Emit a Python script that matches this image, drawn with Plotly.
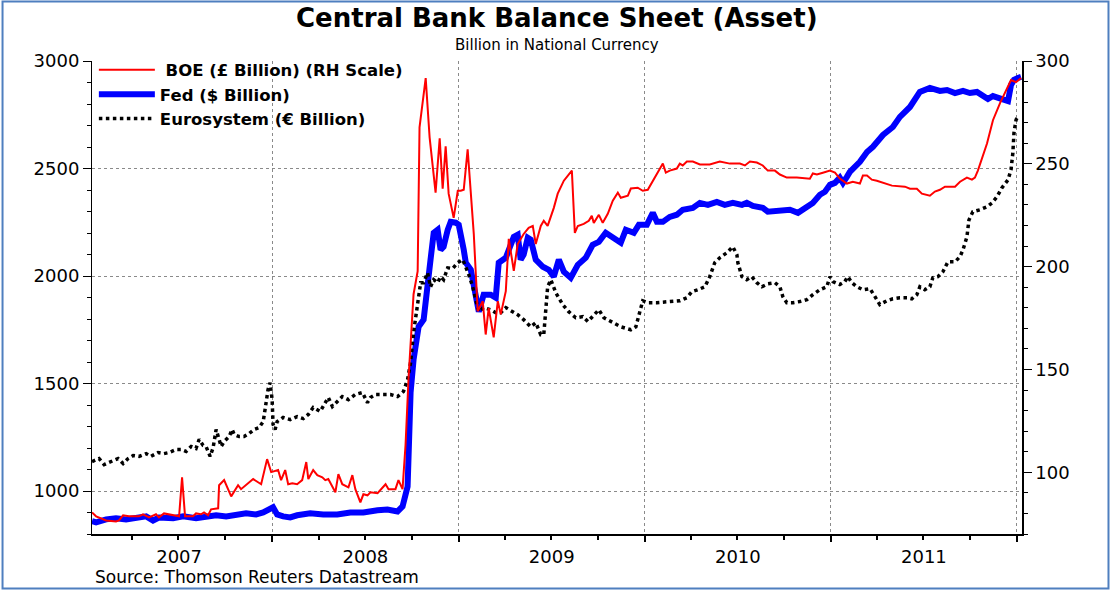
import plotly.graph_objects as go
import pandas as pd

# ---------------- data (decimal years, values) ----------------
boe_t = [2007.032, 2007.054, 2007.108, 2007.161, 2007.177, 2007.199, 2007.231, 2007.285, 2007.306, 2007.339,
         2007.376, 2007.392, 2007.419, 2007.484, 2007.500, 2007.516, 2007.532, 2007.575, 2007.591, 2007.618,
         2007.634, 2007.656, 2007.672, 2007.710, 2007.715, 2007.742, 2007.780, 2007.817, 2007.833, 2007.898,
         2007.941, 2007.973, 2007.995, 2008.032, 2008.048, 2008.070, 2008.086, 2008.108, 2008.134, 2008.161,
         2008.183, 2008.194, 2008.220, 2008.242, 2008.269, 2008.285, 2008.301, 2008.339, 2008.355, 2008.376,
         2008.409, 2008.430, 2008.446, 2008.473, 2008.489, 2008.511, 2008.527, 2008.565, 2008.608, 2008.624,
         2008.661, 2008.677, 2008.699, 2008.715, 2008.731, 2008.758, 2008.780, 2008.790, 2008.812, 2008.823,
         2008.844, 2008.876, 2008.898, 2008.914, 2008.930, 2008.946, 2008.973, 2008.995, 2009.011, 2009.027,
         2009.048, 2009.065, 2009.081, 2009.102, 2009.129, 2009.145, 2009.161, 2009.188, 2009.210, 2009.226,
         2009.253, 2009.269, 2009.296, 2009.317, 2009.349, 2009.376, 2009.398, 2009.414, 2009.441, 2009.457,
         2009.478, 2009.511, 2009.532, 2009.565, 2009.608, 2009.624, 2009.640, 2009.672, 2009.699, 2009.715,
         2009.726, 2009.753, 2009.774, 2009.801, 2009.828, 2009.855, 2009.871, 2009.909, 2009.925, 2009.962,
         2009.989, 2010.016, 2010.043, 2010.081, 2010.097, 2010.113, 2010.134, 2010.172, 2010.188, 2010.204,
         2010.226, 2010.258, 2010.296, 2010.349, 2010.403, 2010.457, 2010.511, 2010.538, 2010.565, 2010.602,
         2010.634, 2010.661, 2010.699, 2010.726, 2010.763, 2010.817, 2010.887, 2010.903, 2010.925, 2010.957,
         2010.995, 2011.022, 2011.048, 2011.086, 2011.118, 2011.156, 2011.172, 2011.194, 2011.220, 2011.247,
         2011.280, 2011.328, 2011.398, 2011.425, 2011.462, 2011.489, 2011.532, 2011.559, 2011.586, 2011.613,
         2011.667, 2011.694, 2011.731, 2011.758, 2011.774, 2011.790, 2011.839, 2011.871, 2011.909, 2011.935,
         2011.968, 2011.995, 2012.022]
boe_v = [80.5, 78.6, 76.6, 76.1, 76.6, 79.1, 78.6, 78.6, 79.6, 78.1,
         79.6, 78.1, 80.0, 79.1, 78.6, 97.6, 78.6, 78.6, 80.0, 79.6,
         80.5, 79.1, 82.0, 82.5, 93.7, 96.2, 88.3, 93.7, 91.8, 96.7,
         94.2, 106.4, 100.1, 101.1, 96.2, 101.1, 94.2, 94.7, 94.2, 96.2,
         105.0, 96.7, 101.1, 98.6, 97.6, 96.2, 96.7, 90.3, 99.1, 94.2,
         92.7, 98.6, 91.8, 85.4, 89.3, 88.8, 90.3, 89.8, 94.2, 91.8,
         91.8, 96.2, 91.8, 113.3, 145.5, 186.6, 197.8, 267.7, 282.4, 291.7,
         262.9, 236.0, 262.4, 237.9, 258.5, 235.5, 223.7, 236.9, 236.9, 237.4,
         257.0, 236.9, 215.9, 178.3, 183.2, 167.0, 179.8, 165.6, 183.2, 176.8,
         188.1, 213.5, 198.0, 211.0, 215.9, 218.9, 219.8, 211.0, 219.8, 222.3,
         219.8, 228.6, 235.5, 241.8, 246.7, 216.4, 219.8, 220.8, 222.3, 224.7,
         221.3, 225.2, 221.3, 225.7, 232.1, 236.0, 233.5, 234.5, 238.0, 238.4,
         236.9, 237.4, 241.8, 248.2, 250.1, 245.7, 246.7, 247.7, 250.1, 249.2,
         251.1, 251.1, 249.7, 249.7, 251.1, 250.1, 250.1, 249.2, 251.1, 250.6,
         249.2, 246.7, 246.7, 244.8, 243.3, 243.3, 242.8, 245.3, 244.8, 245.7,
         246.7, 245.7, 242.8, 240.4, 241.3, 240.4, 244.3, 244.3, 242.3, 241.8,
         240.9, 239.4, 238.9, 237.9, 237.9, 235.5, 234.5, 236.5, 237.4, 238.9,
         238.9, 241.3, 243.3, 242.3, 243.3, 246.7, 259.9, 271.2, 279.5, 284.8,
         290.7, 289.7, 291.7]

fed_t = [2007.032, 2007.054, 2007.108, 2007.161, 2007.215, 2007.269, 2007.323, 2007.360, 2007.392, 2007.468,
         2007.522, 2007.591, 2007.645, 2007.699, 2007.753, 2007.806, 2007.860, 2007.914, 2007.952, 2008.005,
         2008.027, 2008.059, 2008.097, 2008.134, 2008.204, 2008.274, 2008.349, 2008.419, 2008.489, 2008.565,
         2008.618, 2008.672, 2008.699, 2008.726, 2008.742, 2008.758, 2008.785, 2008.812, 2008.833, 2008.849,
         2008.866, 2008.887, 2008.903, 2008.919, 2008.941, 2008.957, 2008.984, 2009.000, 2009.027, 2009.038,
         2009.065, 2009.091, 2009.108, 2009.134, 2009.172, 2009.199, 2009.215, 2009.253, 2009.280, 2009.296,
         2009.317, 2009.333, 2009.349, 2009.371, 2009.387, 2009.414, 2009.452, 2009.484, 2009.511, 2009.538,
         2009.565, 2009.602, 2009.640, 2009.683, 2009.720, 2009.753, 2009.790, 2009.828, 2009.844, 2009.871,
         2009.898, 2009.941, 2009.968, 2010.011, 2010.043, 2010.065, 2010.097, 2010.134, 2010.172, 2010.204,
         2010.258, 2010.296, 2010.339, 2010.387, 2010.430, 2010.473, 2010.522, 2010.548, 2010.581, 2010.634,
         2010.661, 2010.710, 2010.742, 2010.780, 2010.823, 2010.871, 2010.903, 2010.941, 2010.968, 2010.995,
         2011.022, 2011.048, 2011.065, 2011.086, 2011.102, 2011.156, 2011.194, 2011.226, 2011.280, 2011.333,
         2011.371, 2011.425, 2011.478, 2011.532, 2011.586, 2011.624, 2011.667, 2011.710, 2011.747, 2011.785,
         2011.817, 2011.844, 2011.871, 2011.909, 2011.952, 2011.968, 2011.984, 2012.005, 2012.022]
fed_v = [860, 854, 868, 873, 868, 873, 882, 863, 877, 873,
         882, 873, 877, 887, 882, 891, 896, 891, 900, 924,
         891, 882, 877, 887, 896, 891, 891, 900, 900, 910,
         914, 905, 928, 1021, 1458, 1611, 1764, 1797, 1997, 2076,
         2201, 2215, 2122, 2136, 2215, 2252, 2248, 2238, 2122, 2062,
         2029, 1890, 1834, 1913, 1913, 1899, 2062, 2085, 2136, 2182,
         2192, 2076, 2099, 2178, 2169, 2076, 2043, 2029, 1997, 2076,
         2020, 1992, 2052, 2085, 2145, 2159, 2201, 2178, 2169, 2155,
         2215, 2201, 2238, 2238, 2294, 2252, 2252, 2275, 2285, 2308,
         2317, 2340, 2331, 2345, 2331, 2340, 2331, 2340, 2326, 2317,
         2299, 2303, 2303, 2308, 2294, 2317, 2340, 2378, 2392, 2424,
         2433, 2457, 2433, 2461, 2484, 2531, 2577, 2601, 2656, 2693,
         2740, 2786, 2856, 2875, 2861, 2865, 2851, 2861, 2851, 2856,
         2842, 2823, 2837, 2823, 2814, 2889, 2912, 2921, 2926]

euro_t = [2007.032, 2007.070, 2007.097, 2007.134, 2007.172, 2007.199, 2007.226, 2007.253, 2007.285, 2007.323,
          2007.349, 2007.387, 2007.419, 2007.446, 2007.484, 2007.511, 2007.538, 2007.565, 2007.591, 2007.608,
          2007.629, 2007.645, 2007.656, 2007.667, 2007.683, 2007.699, 2007.715, 2007.726, 2007.742, 2007.769,
          2007.785, 2007.796, 2007.823, 2007.849, 2007.876, 2007.903, 2007.930, 2007.952, 2007.962, 2007.978,
          2007.989, 2008.000, 2008.005, 2008.016, 2008.027, 2008.059, 2008.097, 2008.134, 2008.167, 2008.194,
          2008.220, 2008.258, 2008.285, 2008.301, 2008.323, 2008.349, 2008.376, 2008.409, 2008.446, 2008.484,
          2008.511, 2008.527, 2008.554, 2008.597, 2008.634, 2008.672, 2008.704, 2008.726, 2008.742, 2008.758,
          2008.780, 2008.796, 2008.812, 2008.833, 2008.849, 2008.866, 2008.887, 2008.903, 2008.919, 2008.941,
          2008.968, 2008.995, 2009.022, 2009.038, 2009.054, 2009.075, 2009.091, 2009.108, 2009.134, 2009.172,
          2009.199, 2009.226, 2009.253, 2009.290, 2009.317, 2009.349, 2009.387, 2009.414, 2009.441, 2009.457,
          2009.478, 2009.495, 2009.522, 2009.559, 2009.591, 2009.629, 2009.667, 2009.694, 2009.720, 2009.753,
          2009.780, 2009.817, 2009.871, 2009.925, 2009.952, 2009.989, 2010.016, 2010.065, 2010.134, 2010.188,
          2010.226, 2010.253, 2010.285, 2010.323, 2010.349, 2010.376, 2010.403, 2010.441, 2010.473, 2010.495,
          2010.500, 2010.522, 2010.548, 2010.575, 2010.602, 2010.629, 2010.661, 2010.699, 2010.726, 2010.742,
          2010.763, 2010.796, 2010.833, 2010.871, 2010.903, 2010.941, 2010.978, 2010.995, 2011.011, 2011.048,
          2011.075, 2011.091, 2011.113, 2011.140, 2011.172, 2011.210, 2011.237, 2011.263, 2011.301, 2011.333,
          2011.371, 2011.409, 2011.435, 2011.462, 2011.478, 2011.505, 2011.532, 2011.548, 2011.575, 2011.602,
          2011.629, 2011.667, 2011.694, 2011.710, 2011.731, 2011.742, 2011.763, 2011.801, 2011.839, 2011.866,
          2011.892, 2011.919, 2011.952, 2011.968, 2011.978, 2011.984, 2011.995, 2012.000]
euro_v = [1137, 1151, 1123, 1137, 1151, 1128, 1151, 1165, 1161, 1174,
          1161, 1179, 1174, 1179, 1193, 1193, 1184, 1207, 1198, 1240,
          1212, 1207, 1184, 1161, 1202, 1286, 1240, 1207, 1230, 1253,
          1286, 1263, 1253, 1253, 1267, 1286, 1295, 1323, 1379, 1472,
          1504, 1425, 1310, 1286, 1323, 1342, 1332, 1346, 1337, 1356,
          1388, 1370, 1411, 1435, 1393, 1416, 1439, 1425, 1449, 1458,
          1411, 1435, 1449, 1449, 1449, 1439, 1463, 1518, 1597, 1737,
          1890, 1969, 1969, 2015, 1950, 1983, 1969, 1997, 1983, 2038,
          2035, 2062, 2076, 2043, 2006, 1950, 1899, 1834, 1853, 1843,
          1829, 1829, 1853, 1834, 1820, 1797, 1764, 1783, 1727, 1727,
          1950, 1983, 1922, 1867, 1834, 1806, 1811, 1788, 1811, 1843,
          1806, 1788, 1764, 1750, 1764, 1885, 1876, 1876, 1881, 1885,
          1899, 1927, 1936, 1950, 1997, 2062, 2085, 2108, 2136, 2099,
          2062, 1997, 1983, 1997, 1969, 1950, 1964, 1969, 1950, 1904,
          1876, 1876, 1881, 1890, 1913, 1936, 1950, 1997, 1974, 1960,
          1974, 1997, 1969, 1950, 1936, 1941, 1904, 1867, 1885, 1894,
          1899, 1899, 1894, 1913, 1950, 1936, 1950, 1992, 1997, 2020,
          2066, 2066, 2090, 2122, 2182, 2261, 2299, 2308, 2322, 2340,
          2368, 2410, 2447, 2494, 2573, 2666, 2726, 2735]

names = [" BOE (\u00a3 Billion) (RH Scale)", "Fed ($ Billion)", "Eurosystem (\u20ac Billion)"]
title_text = "Central Bank Balance Sheet (Asset)"
subtitle_text = "Billion in National Currency"
source_text = "Source: Thomson Reuters Datastream"


def to_date(y):
    yr = int(y)
    start = pd.Timestamp(yr, 1, 1)
    end = pd.Timestamp(yr + 1, 1, 1)
    return start + (end - start) * (y - yr)


def dates(ts):
    return [to_date(t) for t in ts]


FONT = "DejaVu Sans"
GRID = "#8a8a8a"

fig = go.Figure()
fig.add_trace(go.Scatter(x=dates(boe_t), y=boe_v, name=names[0], mode="lines",
                         line=dict(color="#ff0000", width=2), yaxis="y2"))
fig.add_trace(go.Scatter(x=dates(fed_t), y=fed_v, name=names[1], mode="lines",
                         line=dict(color="#0000ff", width=6)))
fig.add_trace(go.Scatter(x=dates(euro_t), y=euro_v, name=names[2], mode="lines",
                         line=dict(color="#000000", width=3.5, dash="dot")))

x0 = to_date(2007.032)
x1 = to_date(2012.027)

fig.update_layout(
    width=1112, height=590,
    margin=dict(l=92, r=90, t=61, b=56),
    paper_bgcolor="white", plot_bgcolor="white",
    font=dict(family=FONT, color="black"),
    showlegend=True,
    legend=dict(x=0.002, y=1.018, xanchor="left", yanchor="top",
                bgcolor="rgba(255,255,255,0)", borderwidth=0,
                font=dict(family=FONT, size=16.5, weight="bold"),
                itemwidth=56, tracegroupgap=0),
    xaxis=dict(type="date", range=[str(x0), str(x1)],
               tick0="2007-01-01", dtick="M12", tickformat="%Y",
               ticklabelmode="period",
               showgrid=True, gridcolor=GRID, griddash="dot", gridwidth=1,
               showline=True, linecolor="black", linewidth=1.5,
               ticks="outside", ticklen=6, tickcolor="black", tickwidth=1.5,
               tickfont=dict(size=18),
               minor=dict(dtick="M3", tick0="2007-01-01", ticks="outside",
                          ticklen=4, tickcolor="black", showgrid=False),
               zeroline=False),
    yaxis=dict(range=[800, 3000], tick0=0, dtick=500,
               showgrid=True, gridcolor=GRID, griddash="dot", gridwidth=1,
               showline=True, linecolor="black", linewidth=1,
               ticks="outside", ticklen=8, tickcolor="black",
               tickfont=dict(size=18),
               minor=dict(dtick=100, ticks="outside", ticklen=4,
                          tickcolor="black", showgrid=False),
               zeroline=False),
    yaxis2=dict(range=[70, 300], tick0=0, dtick=50, overlaying="y", side="right",
                anchor="x", showgrid=False,
                showline=True, linecolor="black", linewidth=1.5,
                ticks="outside", ticklen=8, tickcolor="black",
                tickfont=dict(size=18),
                minor=dict(dtick=10, ticks="outside", ticklen=4, tickcolor="black"),
                zeroline=False),
    annotations=[
        dict(text=title_text, xref="paper", yref="paper", x=0.5, y=1.091,
             xanchor="center", yanchor="middle", showarrow=False,
             font=dict(family=FONT, size=26, weight="bold")),
        dict(text=subtitle_text, xref="paper", yref="paper", x=0.5, y=1.034,
             xanchor="center", yanchor="middle", showarrow=False,
             font=dict(family=FONT, size=15)),
        dict(text=source_text, xref="paper", yref="paper", x=0.001, y=-0.091,
             xanchor="left", yanchor="middle", showarrow=False,
             font=dict(family=FONT, size=17)),
    ],
    shapes=[dict(type="rect", xref="paper", yref="paper",
                 x0=-0.0962, x1=1.0930, y0=-0.1152, y1=1.1258,
                 line=dict(color="#4f7fbf", width=2), fillcolor="rgba(0,0,0,0)",
                 layer="below")],
)

fig.write_html("out.html", config={"displayModeBar": False},
               post_script="document.body.style.margin='0';document.body.style.padding='0';")
